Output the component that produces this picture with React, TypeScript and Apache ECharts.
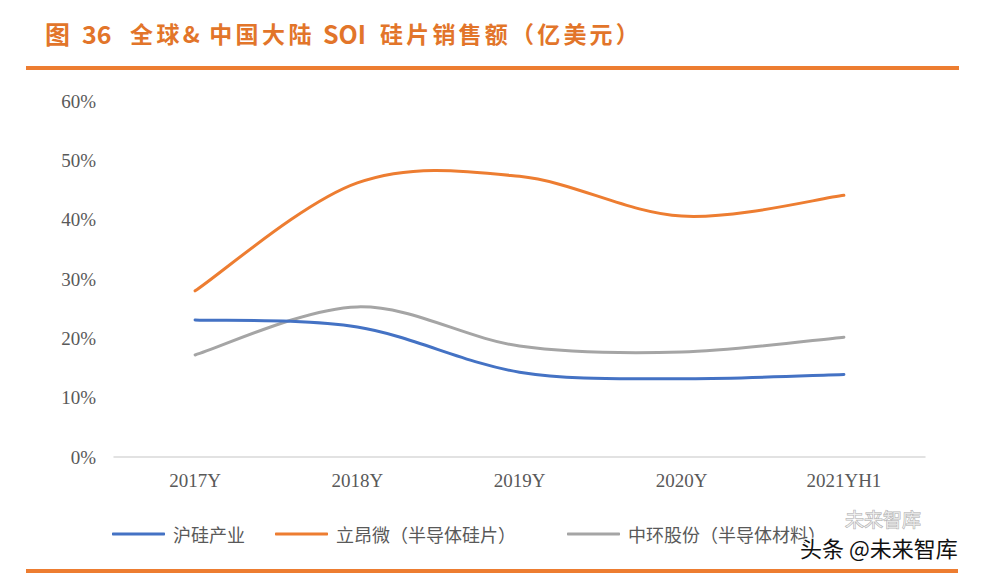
import { useEffect, useRef } from 'react';
import * as echarts from 'echarts';

// 数据（%）
const categories = ['2017Y', '2018Y', '2019Y', '2020Y', '2021YH1'];
const huGuiChanYe = [23.1, 21.9, 14.3, 13.2, 13.9];
const liAngWei = [28.0, 46.2, 47.3, 40.6, 44.1];
const zhongHuanGuFen = [17.2, 25.3, 18.7, 17.7, 20.2];
const yTicks = [0, 10, 20, 30, 40, 50, 60];

const seriesNames = ['沪硅产业', '立昂微（半导体硅片）', '中环股份（半导体材料）'];
const seriesColors = ['#4472C4', '#ED7D31', '#A5A5A5'];

const ORANGE = '#E2752A';
const CJK = '"Noto Sans CJK SC", "Noto Sans", sans-serif';
const SERIF = '"Liberation Serif", "DejaVu Serif", serif';

// 标题分段（文字 + 起点 + 字距）
const titleParts: { text: string; x: number; pitch: number }[] = [
    { text: '图', x: 45, pitch: 0 },
    { text: '36', x: 82, pitch: 0 },
    { text: '全球&中国大陆', x: 130, pitch: 26.4 },
    { text: 'SOI', x: 323, pitch: 0 },
    { text: '硅片销售额（亿美元）', x: 380, pitch: 26.2 },
];

// Excel 风格的平滑曲线（Catmull-Rom）
const smoothPath = (pts: number[][]) => {
    let d = `M${pts[0][0]},${pts[0][1]}`;
    for (let i = 0; i < pts.length - 1; i++) {
        const p0 = pts[Math.max(i - 1, 0)];
        const p1 = pts[i];
        const p2 = pts[i + 1];
        const p3 = pts[Math.min(i + 2, pts.length - 1)];
        const c1x = p1[0] + (p2[0] - p0[0]) / 6;
        const c1y = p1[1] + (p2[1] - p0[1]) / 6;
        const c2x = p2[0] - (p3[0] - p1[0]) / 6;
        const c2y = p2[1] - (p3[1] - p1[1]) / 6;
        d += ` C${c1x},${c1y} ${c2x},${c2y} ${p2[0]},${p2[1]}`;
    }
    return d;
};

export default function App() {
    const chartRef = useRef<HTMLDivElement>(null);

    useEffect(() => {
        document.body.style.margin = '0';
        if (!chartRef.current) return;
        const chart = echarts.init(chartRef.current, null, { renderer: 'svg' });

        // 标题文字
        const titleGraphics: any[] = [];
        titleParts.forEach((p) => {
            if (p.pitch > 0) {
                Array.from(p.text).forEach((ch, i) => {
                    titleGraphics.push({
                        type: 'text',
                        x: p.x + i * p.pitch,
                        y: 33,
                        style: {
                            text: ch,
                            font: `bold 23px ${CJK}`,
                            fill: ORANGE,
                            textVerticalAlign: 'middle',
                        },
                    });
                });
            } else {
                titleGraphics.push({
                    type: 'text',
                    x: p.x,
                    y: 33,
                    style: {
                        text: p.text,
                        font: `bold 25px ${CJK}`,
                        fill: ORANGE,
                        textVerticalAlign: 'middle',
                    },
                });
            }
        });

        const series = [huGuiChanYe, liAngWei, zhongHuanGuFen].map((values, i) => ({
            name: seriesNames[i],
            type: 'custom',
            data: values.map((v, idx) => [idx, v]),
            encode: { x: 0, y: 1 },
            itemStyle: { color: seriesColors[i] },
            z: i === 2 ? 1 : 2,
            renderItem: (params: any, api: any) => {
                if (params.dataIndex !== 0) return null;
                const pts = values.map((v, idx) => api.coord([idx, v]));
                return {
                    type: 'path',
                    shape: { pathData: smoothPath(pts) },
                    style: {
                        fill: 'none',
                        stroke: seriesColors[i],
                        lineWidth: 3,
                        lineCap: 'round',
                    },
                };
            },
        }));

        const legendLeft = [107, 270, 562];
        const legends = seriesNames.map((name, i) => ({
            data: [name],
            left: legendLeft[i],
            top: 520,
            icon: 'roundRect',
            itemWidth: 53,
            itemHeight: 3,
            itemGap: 0,
            textStyle: {
                fontFamily: CJK,
                fontSize: 18,
                color: '#595959',
                padding: [0, 0, 0, 3],
            },
        }));

        const option: any = {
            animation: false,
            grid: {
                left: 114,
                right: 75,
                top: 101,
                bottom: 116,
                containLabel: false,
            },
            legend: legends,
            xAxis: {
                type: 'category',
                data: categories,
                boundaryGap: true,
                axisLine: { lineStyle: { color: '#D9D9D9', width: 1.5 } },
                axisTick: { show: false },
                axisLabel: {
                    margin: 14,
                    fontFamily: SERIF,
                    fontSize: 19,
                    color: '#595959',
                },
            },
            yAxis: {
                type: 'value',
                min: yTicks[0],
                max: yTicks[yTicks.length - 1],
                interval: 10,
                axisLine: { show: false },
                axisTick: { show: false },
                splitLine: { show: false },
                axisLabel: {
                    margin: 18,
                    fontFamily: SERIF,
                    fontSize: 19,
                    color: '#595959',
                    formatter: '{value}%',
                },
            },
            series,
            graphic: [
                ...titleGraphics,
                {
                    type: 'rect',
                    shape: { x: 26, y: 66, width: 933, height: 4 },
                    style: { fill: '#ED7D31' },
                },
                {
                    type: 'rect',
                    shape: { x: 26, y: 569, width: 932, height: 4 },
                    style: { fill: '#ED7D31' },
                },
                {
                    type: 'text',
                    x: 845,
                    y: 518,
                    style: {
                        text: '未来智库',
                        font: `19px ${CJK}`,
                        fill: 'rgba(255,255,255,0.6)',
                        stroke: 'rgba(120,120,120,0.6)',
                        lineWidth: 1,
                        textVerticalAlign: 'middle',
                    },
                },
                {
                    type: 'text',
                    x: 800,
                    y: 547,
                    z: 100,
                    style: {
                        text: '头条 @未来智库',
                        font: `22px ${CJK}`,
                        fill: '#111111',
                        stroke: '#ffffff',
                        lineWidth: 2,
                        textVerticalAlign: 'middle',
                    },
                },
            ],
        };

        chart.setOption(option);

        return () => {
            chart.dispose();
        };
    }, []);

    return <div ref={chartRef} style={{ width: '1000px', height: '573px', background: '#ffffff' }} />;
}
